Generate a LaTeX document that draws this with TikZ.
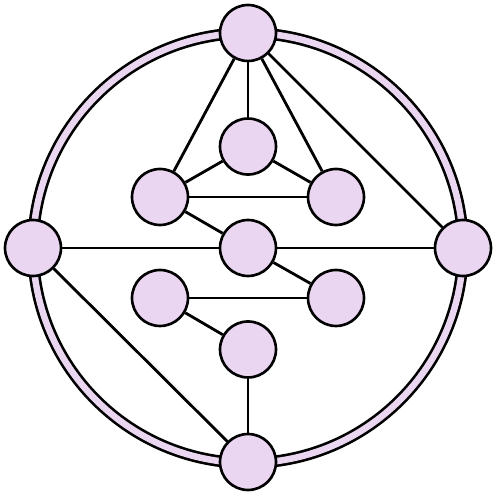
\documentclass[tikz,border=0pt]{standalone}
\usepackage{tikz}
\usetikzlibrary{positioning}
\definecolor{lilac}{RGB}{234,214,240}

\begin{document}
\begin{tikzpicture}[x=0.02cm, y=0.02cm, node distance=2.03cm, on grid,
    vertex/.style={circle, draw=black, fill=lilac, line width=1.5pt, minimum size=1.12cm, inner sep=0pt},
    link/.style={line width=1.6pt}]
   \useasboundingbox (-248,-248) rectangle (248,248);
   % outer ring
   \draw[line width=1.5pt, double=lilac, double distance=0.13cm] (0,0) circle (215);

   \node[vertex] (c)  at (0,0) {};
   \node[vertex] (n)  at (0,215) {};
   \node[vertex] (s)  at (0,-214) {};
   \node[vertex] (w)  at (-215,0) {};
   \node[vertex] (e)  at (215,0) {};
   \node[vertex] (t)  [above=of c] {};
   \node[vertex] (b)  [below=of c] {};
   \node[vertex] (tl) at (-88,51) {};
   \node[vertex] (tr) at (88,51) {};
   \node[vertex] (bl) at (-88,-50) {};
   \node[vertex] (br) at (88,-50) {};

   \path[link]
    (n) edge (tl)
        edge (t)
        edge (tr)
        edge (e)
    (t) edge (tl)
        edge (tr)
    (tl) edge (tr)
         edge (c)
    (c) edge (w)
        edge (e)
        edge (br)
    (bl) edge (br)
         edge (b)
    (b) edge (s)
    (w) edge (s);
\end{tikzpicture}
\end{document}
